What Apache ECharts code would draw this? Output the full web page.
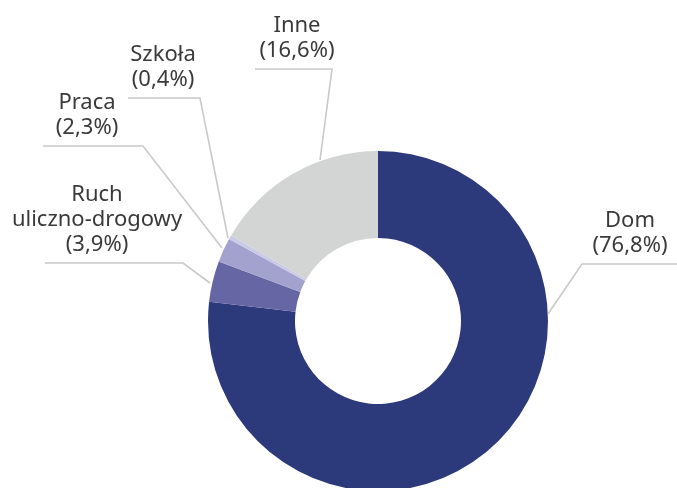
<!DOCTYPE html>
<html><head><meta charset="utf-8">
<script src="https://cdn.jsdelivr.net/npm/echarts@6/dist/echarts.min.js"></script>
<style>html,body{margin:0;padding:0;background:#fff}#c{width:677px;height:488px}</style>
</head><body><div id="c"></div>
<script>
const categories = ['Dom', 'Ruch\nuliczno-drogowy', 'Praca', 'Szkoła', 'Inne'];
const values = [76.8, 3.9, 2.3, 0.4, 16.6];
const colors = ['#2c397b', '#6666a4', '#a3a2ce', '#c9c9e8', '#d3d4d4'];
// label guide layout: [edgeX, edgeY, elbowX, elbowY, endX, labelCenterX]
const guides = [
  [548, 314, 582, 264, 677, 630],
  [210, 283, 183, 263, 45, 97],
  [222, 248, 143, 146, 43, 87],
  [228, 238, 200, 98, 128, 163],
  [320, 160, 332, 69, 255, 297]
];
const chart = echarts.init(document.getElementById('c'), null, {renderer: 'canvas'});
chart.setOption({
  animation: false,
  series: [{
    type: 'pie',
    center: [378, 321],
    radius: [83, 170],
    startAngle: 90,
    clockwise: true,
    data: categories.map((n, i) => ({name: n, value: values[i], itemStyle: {color: colors[i]}})),
    label: {
      show: true,
      formatter: p => p.name + '\n(' + String(p.value).replace('.', ',') + '%)',
      fontFamily: 'Noto Sans',
      fontSize: 22,
      lineHeight: 25,
      color: '#3a3a3a',
      align: 'center',
      overflow: 'none',
      width: 300
    },
    labelLine: {show: true, lineStyle: {color: '#c9c9c9', width: 1.6}},
    labelLayout: function (p) {
      const g = guides[p.dataIndex];
      return {
        x: g[5], y: g[3] - 6,
        align: 'center', verticalAlign: 'bottom',
        labelLinePoints: [[g[0], g[1]], [g[2], g[3]], [g[4], g[3]]]
      };
    }
  }]
});
</script></body></html>
